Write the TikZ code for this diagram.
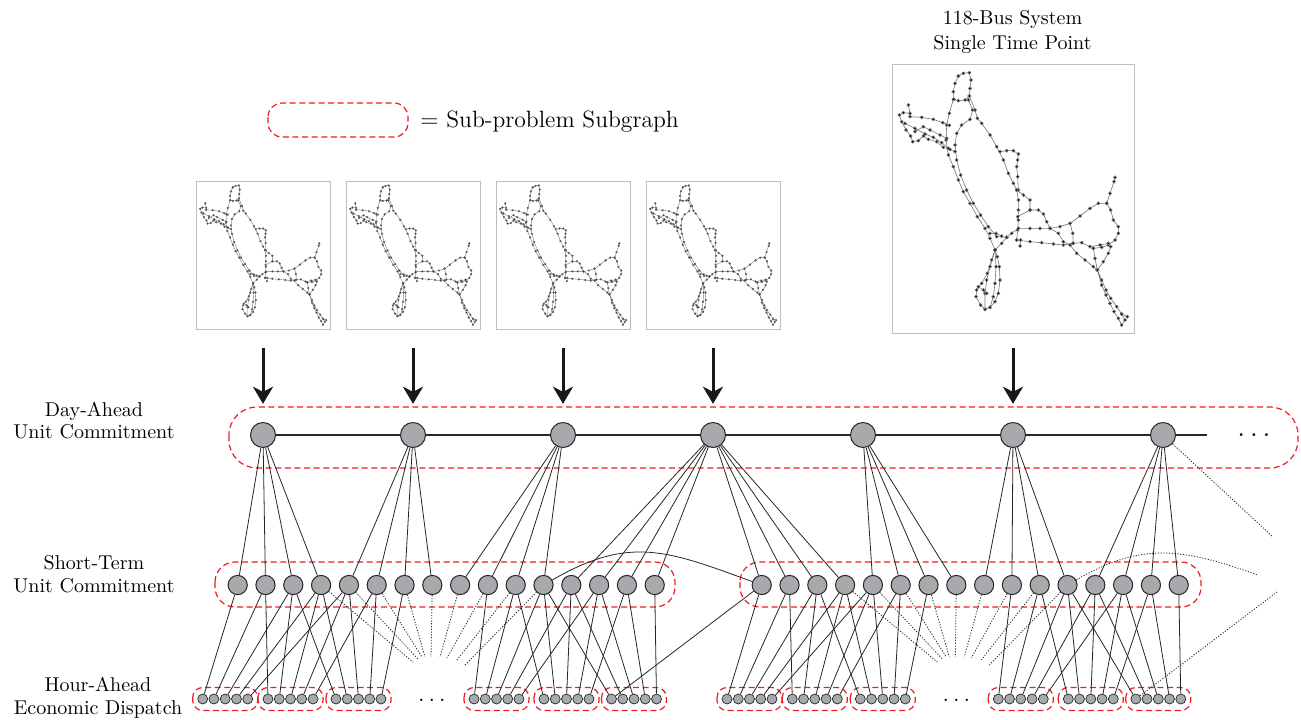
\documentclass[tikz,border=0pt]{standalone}
\usetikzlibrary{arrows.meta}

\definecolor{busgray}{RGB}{167,169,172}
\definecolor{subred}{RGB}{237,28,36}
\definecolor{framegray}{RGB}{190,190,190}

\tikzset{
  dabus/.style={circle, draw=black!85, fill=busgray, line width=0.5pt, minimum size=12.5pt, inner sep=0pt},
  stbus/.style={dabus, minimum size=9.6pt},
  habus/.style={dabus, line width=0.35pt, minimum size=5pt},
  subgraph/.style={draw=subred, line width=0.6pt, dash pattern=on 3pt off 1.8pt},
  spine/.style={black!85, line width=0.7pt},
  link/.style={black!85, line width=0.4pt},
  hint/.style={black!85, line width=0.4pt, dash pattern=on 0.6pt off 0.8pt},
  feed/.style={black!90, line width=1.5pt, -{Stealth[length=8.5pt, width=10pt, inset=2.5pt]}},
  netbox/.style={draw=framegray, line width=0.5pt, inner sep=0pt},
  netline/.style={black!55, line width=#1},
  netpts/.style={mark=*, mark size=#1, mark options={draw=none, fill=black}},
  tierlabel/.style={align=center, inner sep=0pt, anchor=north, font=\fontsize{10}{11.35}\selectfont},
}

% 118-bus network sketch, #1 line width, #2 dot size
\newcommand{\busnet}[2]{%
  \draw[netline=#1] plot[netpts=#2] coordinates {(205,48) (220,40) (238,38) (243,60) (240,85) (238,108) (225,120) (205,122) (192,118) (190,95) (195,70) (205,48)};
  \draw[netline=#1] plot[netpts=#2] coordinates {(238,108) (255,150) (262,175) (275,190) (300,225) (320,260) (340,300) (355,340) (370,370) (380,390) (385,420) (385,450) (385,480) (383,510) (380,540)};
  \draw[netline=#1] plot[netpts=#2] coordinates {(190,118) (178,160) (170,195) (168,240) (175,285) (190,320) (205,360) (220,395) (240,430) (262,470) (285,505) (300,535) (315,570)};
  \draw[netline=#1] plot[netpts=#2] coordinates {(235,120) (248,150) (240,178) (215,195) (200,220) (195,255) (200,300) (212,345) (230,390) (250,430) (272,465) (295,500) (320,530) (350,532)};
  \draw[netline=#1] plot[netpts=#2] coordinates {(55,135) (60,160) (40,158) (28,165) (35,185) (48,210) (62,228) (68,245) (85,242) (100,228) (115,238) (140,245) (160,262) (180,268) (195,275)};
  \draw[netline=#1] plot[netpts=#2] coordinates {(60,170) (95,172) (130,178) (158,188) (178,196)};
  \draw[netline=#1] plot[netpts=#2] coordinates {(45,190) (75,205) (105,222) (130,232) (155,248) (175,265)};
  \draw[netline=#1] plot[netpts=#2] coordinates {(75,215) (100,200) (120,210) (150,225) (170,235)};
  \draw[netline=#1] plot[netpts=#2] coordinates {(330,275) (350,272) (370,272) (385,282) (383,300) (380,320) (383,350) (385,390)};
  \draw[netline=#1] plot[netpts=#2] coordinates {(380,390) (400,405) (420,420) (420,450) (445,450) (460,462) (470,485) (480,505)};
  \draw[netline=#1] plot[netpts=#2] coordinates {(383,470) (420,450)};
  \draw[netline=#1] plot[netpts=#2] coordinates {(350,532) (365,520) (385,505) (420,505) (450,505) (480,505) (510,500) (540,490) (570,468) (600,445) (625,430) (650,430) (662,450) (670,480) (685,500) (685,520) (675,540) (655,555) (635,562) (610,565)};
  \draw[netline=#1] plot[netpts=#2] coordinates {(650,430) (660,400) (672,365) (675,352)};
  \draw[netline=#1] plot[netpts=#2] coordinates {(380,540) (420,545) (455,548) (490,552) (520,555) (548,550) (575,548) (600,560) (630,555) (655,550)};
  \draw[netline=#1] plot[netpts=#2] coordinates {(480,505) (505,520) (520,545) (540,555) (560,580) (585,600) (610,620) (622,630)};
  \draw[netline=#1] plot[netpts=#2] coordinates {(540,490) (548,520) (550,550)};
  \draw[netline=#1] plot[netpts=#2] coordinates {(610,565) (615,595) (622,630) (640,605) (655,580) (662,560)};
  \draw[netline=#1] plot[netpts=#2] coordinates {(622,630) (635,660) (648,690) (662,715) (680,740) (695,762) (705,780) (695,795) (685,775) (672,755) (660,730) (648,705) (635,675) (622,630)};
  \draw[netline=#1] plot[netpts=#2] coordinates {(695,762) (712,770)};
  \draw[netline=#1] plot[netpts=#2] coordinates {(315,570) (305,600) (292,640) (275,670) (260,690) (258,710) (272,735) (285,748) (300,742) (315,725) (325,700) (330,660) (328,620) (322,590) (315,570)};
  \draw[netline=#1] plot[netpts=#2] coordinates {(315,570) (300,620) (290,660) (285,700) (285,748)};
  \draw[netline=#1] plot[netpts=#2] coordinates {(315,570) (318,620) (315,670) (310,710) (300,742)};
  \draw[netline=#1] plot[netpts=#2] coordinates {(315,570) (335,550) (350,532)};
  \draw[netline=#1] plot[netpts=#2] coordinates {(300,520) (318,520) (335,528)};
  \draw[netline=#1] plot[netpts=#2] coordinates {(392,540) (390,558)};
  \draw[netline=#1] plot[netpts=#2] coordinates {(265,680) (280,690) (290,700)};
}

\begin{document}
\begin{tikzpicture}[x=0.5pt, y=-0.5pt]
  \useasboundingbox (0,0) rectangle (1301,719);

  % network snapshots
  \foreach \i/\c in {1/263, 2/413, 3/563, 4/713} {
    \node[netbox, minimum width=67pt, minimum height=74pt] (net\i) at (\c,255) {};
    \begin{scope}[shift={(\c-67.9,178.5)}, x=0.092pt, y=-0.092pt]
      \busnet{0.2pt}{0.45pt}
    \end{scope}
  }
  \node[netbox, minimum width=121pt, minimum height=134.5pt] (bignet) at (1013,198.5) {};
  \begin{scope}[shift={(890,60)}, x=0.16667pt, y=-0.16667pt]
    \busnet{0.3pt}{0.75pt}
  \end{scope}
  \node[tierlabel, font=\fontsize{10}{12.5}\selectfont] (title) at (1012.5,10) {118-Bus System\\Single Time Point};

  % legend
  \draw[subgraph, rounded corners=7pt] (268,103) rectangle (408,137);
  \node[anchor=base west, inner sep=0pt, font=\fontsize{11.8}{13.5}\selectfont] (legend) at (420,127.3) {$=$ Sub-problem Subgraph};

  % tier labels
  \node[tierlabel] (dalabel) at (94,401.5) {Day-Ahead\\Unit Commitment};
  \node[tierlabel] (stlabel) at (94,555) {Short-Term\\Unit Commitment};
  \node[tierlabel] (halabel) at (98,676.7) {Hour-Ahead\\Economic Dispatch};

  % sub-problem subgraphs
  \draw[subgraph, rounded corners=14pt] (229,407) rectangle (1298,468);
  \draw[subgraph, rounded corners=10pt] (215,562) rectangle (675,607);
  \draw[subgraph, rounded corners=10pt] (740,562) rectangle (1201,607);
  \foreach \w in {1,2}
    \foreach \g/\x in {1/202.7, 2/268, 3/336, 4/474, 5/544, 6/611.5}
      \draw[subgraph, rounded corners=5pt] ({\x+524.3*(\w-1)-10},687.5) rectangle ({\x+524.3*(\w-1)+55},710.5);

  % buses
  \foreach \i in {1,...,7}
    \node[dabus] (da\i) at ({263+150*(\i-1)},435) {};
  \foreach \w in {1,2}
    \foreach \k in {1,...,16}
      \node[stbus] (st\w-\k) at ({237.7+524*(\w-1)+27.8*(\k-1)},585) {};
  \foreach \w in {1,2}
    \foreach \g/\x in {1/202.7, 2/268, 3/336, 4/474, 5/544, 6/611.5}
      \foreach \j in {1,...,5}
        \node[habus] (ha\w-\g-\j) at ({\x+524.3*(\w-1)+11.25*(\j-1)},699) {};

  % feeds into the day-ahead problem
  \foreach \i in {1,...,4}
    \draw[feed, shorten <=9.15pt, shorten >=9.1pt] (net\i.south) -- (da\i.north);
  \draw[feed, shorten <=7.15pt, shorten >=9.1pt] (bignet.south) -- (da6.north);

  % time chains
  \coordinate (daend) at (1207,435);
  \foreach \i [evaluate=\i as \n using int(\i+1)] in {1,...,6}
    \draw[spine] (da\i) -- (da\n);
  \draw[spine] (da7) -- (daend);
  \node[font=\Large, inner sep=0pt] (dadots) at (1254,435) {$\ldots$};
  \foreach \w in {1,2}
    \foreach \k [evaluate=\k as \n using int(\k+1)] in {1,...,15}
      \draw[spine, line width=0.6pt] (st\w-\k) -- (st\w-\n);
  \foreach \w in {1,2}
    \foreach \g in {1,...,6}
      \foreach \j [evaluate=\j as \n using int(\j+1)] in {1,...,4}
        \draw[link] (ha\w-\g-\j) -- (ha\w-\g-\n);
  \node[font=\large, inner sep=0pt] (hadots1) at (432,700) {$\ldots$};
  \node[font=\large, inner sep=0pt] (hadots2) at (956.5,700) {$\ldots$};

  % day-ahead to short-term
  \foreach \d/\w/\a in {1/1/1, 2/1/5, 3/1/9, 4/1/13, 4/2/1, 5/2/5, 6/2/9, 7/2/13}
    \foreach \k in {0,...,3} {
      \pgfmathtruncatemacro{\s}{\a+\k}
      \draw[link] (da\d) -- (st\w-\s);
    }

  % short-term to hour-ahead
  \foreach \w in {1,2}
    \foreach \g/\o in {1/0, 2/1, 3/2, 4/9, 5/10, 6/11}
      \foreach \j in {1,...,5} {
        \pgfmathtruncatemacro{\s}{\j+\o}
        \draw[link] (st\w-\s) -- (ha\w-\g-\j);
      }
  \foreach \w in {1,2}
    \foreach \k/\x/\y in {4/413/662, 5/418/659, 6/422/657, 7/425/657, 8/431/657, 9/440/657, 10/447/658, 11/457/660, 12/465/665} {
      \coordinate (gap\w-\k) at ({\x+524.3*(\w-1)},\y);
      \draw[hint] (st\w-\k) -- (gap\w-\k);
    }

  % links across windows
  \draw[link] (st1-12) to[out=30, in=160, looseness=1.15] (st2-1);
  \draw[link] (ha1-6-1) -- (st2-1);
  \coordinate (nextarc) at (1256.7,574.6);
  \coordinate (nextha) at (1277,592);
  \coordinate (nextda) at (1273,537);
  \draw[hint] (st2-12) .. controls (1142.7,541.1) and (1183.4,548.7) .. (nextarc);
  \draw[hint] (ha2-6-1) -- (nextha);
  \draw[hint] (da7) -- (nextda);
\end{tikzpicture}
\end{document}
